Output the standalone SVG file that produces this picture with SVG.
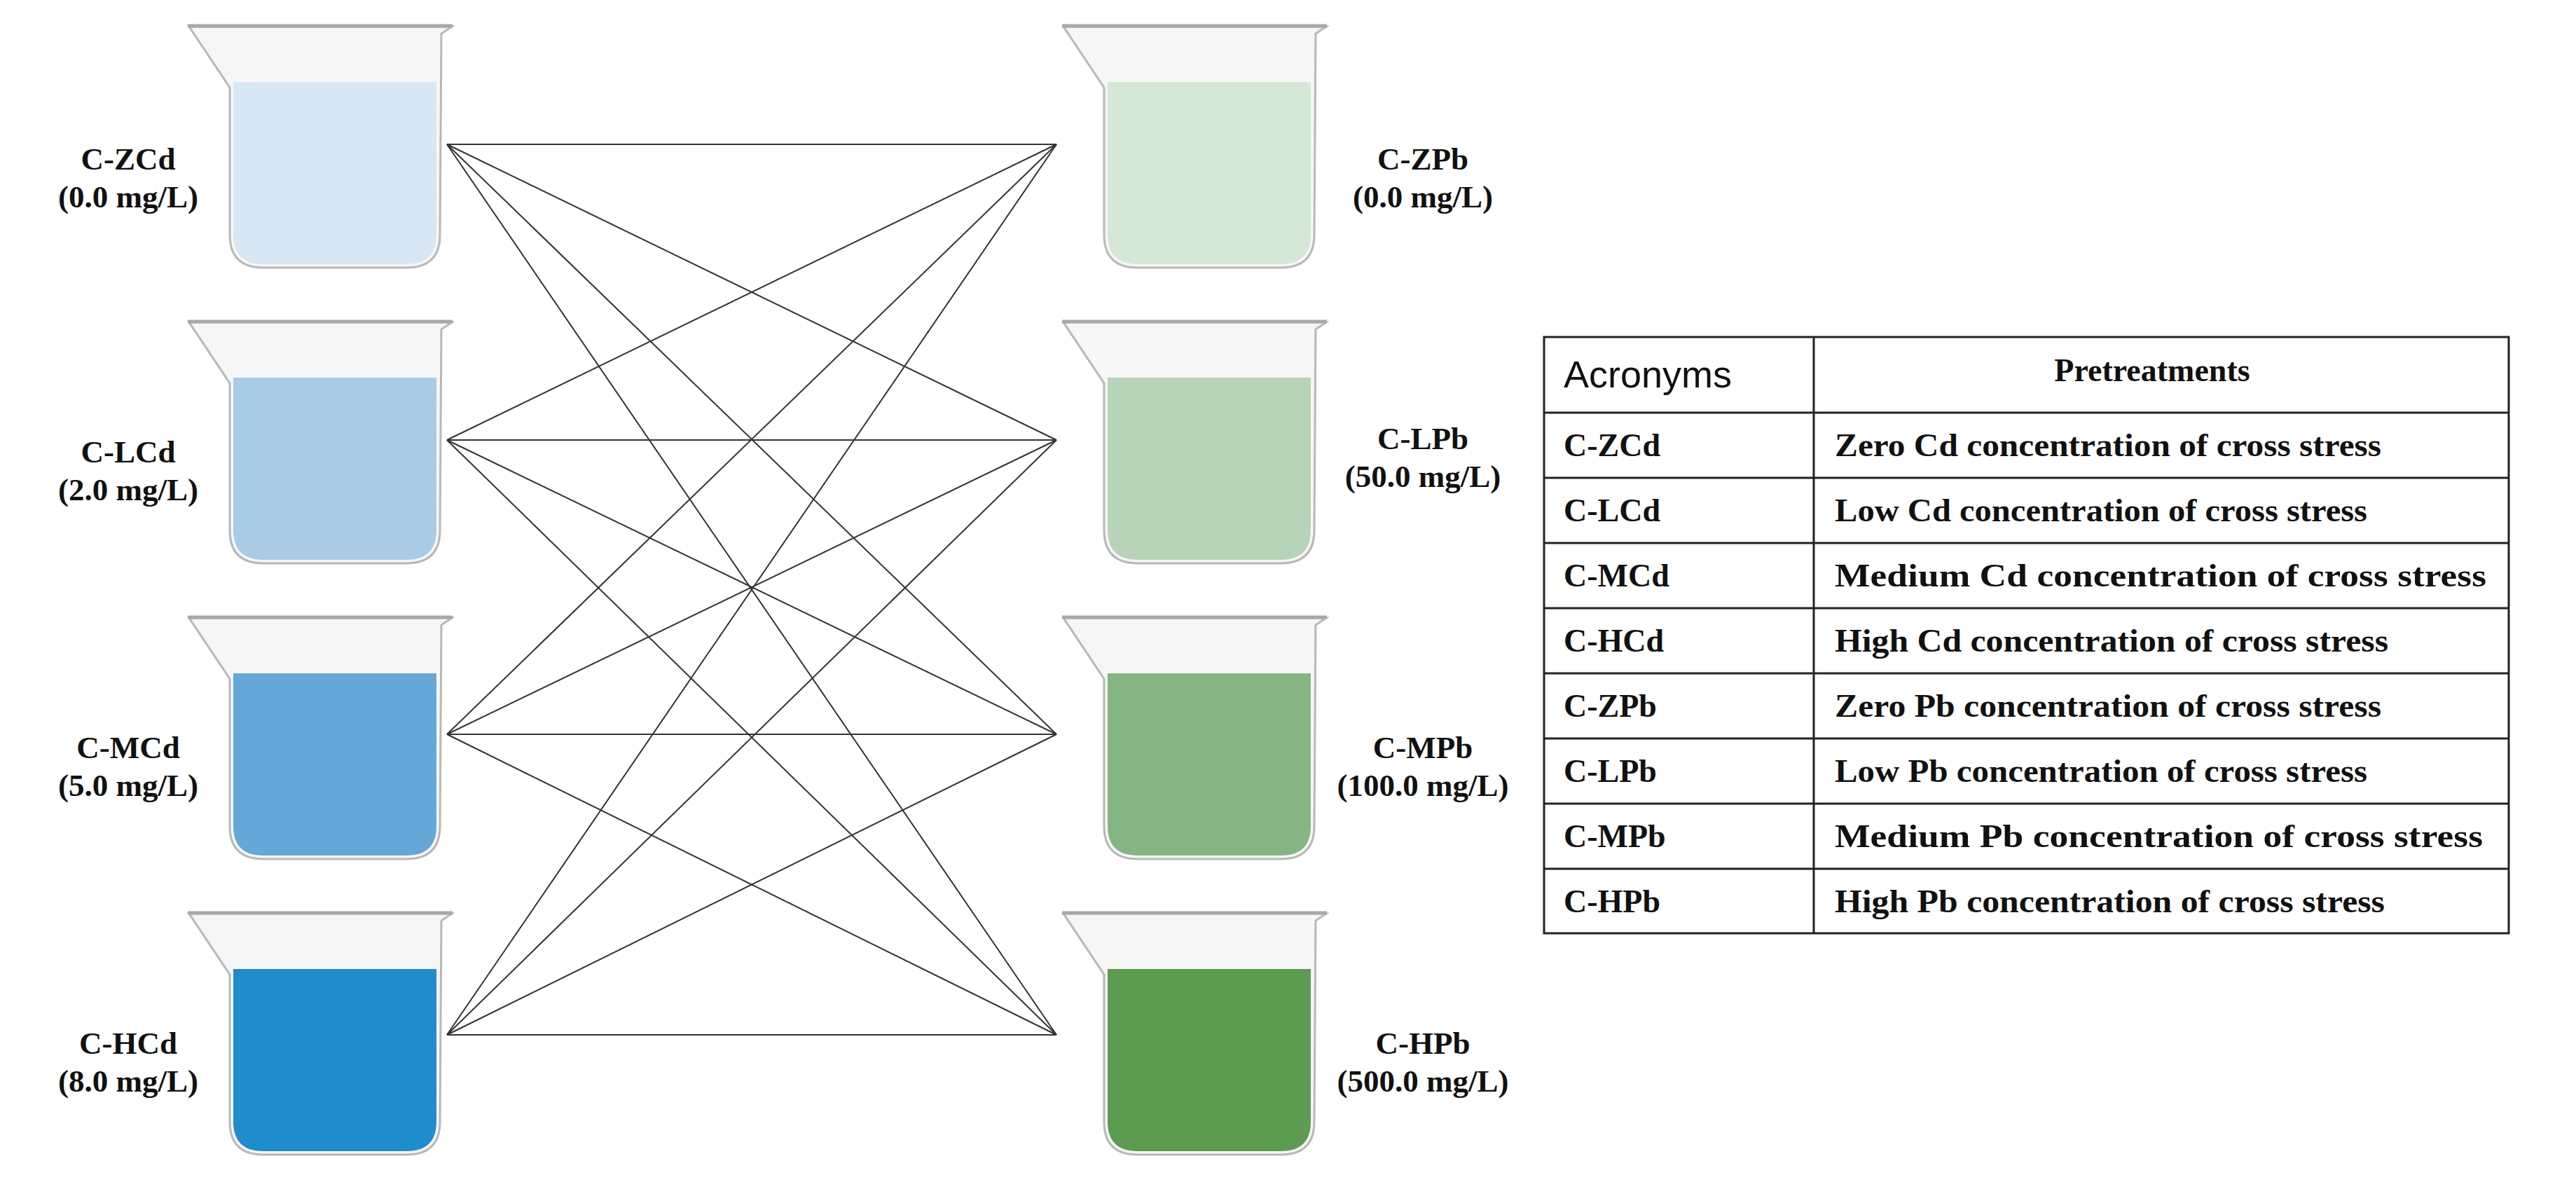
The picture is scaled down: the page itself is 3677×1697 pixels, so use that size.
<svg xmlns="http://www.w3.org/2000/svg" width="3677" height="1697" viewBox="0 0 3677 1697">
<style>
.lbl{font-family:"Liberation Serif",serif;font-weight:bold;font-size:45px;text-anchor:middle;fill:#111}
.tt{font-family:"Liberation Serif",serif;font-weight:bold;font-size:46px;fill:#111}
.glass{fill:#f6f6f6;stroke:#b8b8b8;stroke-width:3}
.rim{fill:none;stroke:#a8a8a8;stroke-width:5}
.ln{stroke:#333;stroke-width:2;fill:none}
.grid{stroke:#222;stroke-width:3;fill:none}
</style>
<defs>
<g id="beaker">
<path class="glass" d="M270,38 L645,38 L630,48 L628,335 Q628,382 580,382 L376,382 Q328,382 328,335 L328,125 Z"/>
<path class="rim" d="M268,37 L646,37"/>
</g>
<path id="liq" d="M333,117 L623,117 L623,335 Q623,377 580,377 L376,377 Q333,377 333,335 Z"/>
</defs>
<rect width="3677" height="1697" fill="#fff"/>
<g id="connectors">
<line class="ln" x1="638" y1="206" x2="1508" y2="206"/><line class="ln" x1="638" y1="206" x2="1508" y2="628"/><line class="ln" x1="638" y1="206" x2="1508" y2="1048"/><line class="ln" x1="638" y1="206" x2="1508" y2="1477"/>
<line class="ln" x1="638" y1="628" x2="1508" y2="206"/><line class="ln" x1="638" y1="628" x2="1508" y2="628"/><line class="ln" x1="638" y1="628" x2="1508" y2="1048"/><line class="ln" x1="638" y1="628" x2="1508" y2="1477"/>
<line class="ln" x1="638" y1="1048" x2="1508" y2="206"/><line class="ln" x1="638" y1="1048" x2="1508" y2="628"/><line class="ln" x1="638" y1="1048" x2="1508" y2="1048"/><line class="ln" x1="638" y1="1048" x2="1508" y2="1477"/>
<line class="ln" x1="638" y1="1477" x2="1508" y2="206"/><line class="ln" x1="638" y1="1477" x2="1508" y2="628"/><line class="ln" x1="638" y1="1477" x2="1508" y2="1048"/><line class="ln" x1="638" y1="1477" x2="1508" y2="1477"/>
</g>
<g id="C-ZCd"><use href="#beaker"/><use href="#liq" fill="#d7e7f3"/><text class="lbl" x="183" y="242">C-ZCd</text><text class="lbl" x="183" y="296">(0.0 mg/L)</text></g>
<g id="C-LCd" transform="translate(0,422)"><use href="#beaker"/><use href="#liq" fill="#aacbe6"/><text class="lbl" x="183" y="238">C-LCd</text><text class="lbl" x="183" y="292">(2.0 mg/L)</text></g>
<g id="C-MCd" transform="translate(0,844)"><use href="#beaker"/><use href="#liq" fill="#65a8d7"/><text class="lbl" x="183" y="238">C-MCd</text><text class="lbl" x="183" y="292">(5.0 mg/L)</text></g>
<g id="C-HCd" transform="translate(0,1266)"><use href="#beaker"/><use href="#liq" fill="#1f8dcb"/><text class="lbl" x="183" y="238">C-HCd</text><text class="lbl" x="183" y="292">(8.0 mg/L)</text></g>
<g id="C-ZPb" transform="translate(1248,0)"><use href="#beaker"/><use href="#liq" fill="#d5e8d5"/><text class="lbl" x="783" y="242">C-ZPb</text><text class="lbl" x="783" y="296">(0.0 mg/L)</text></g>
<g id="C-LPb" transform="translate(1248,422)"><use href="#beaker"/><use href="#liq" fill="#b8d4b8"/><text class="lbl" x="783" y="219">C-LPb</text><text class="lbl" x="783" y="273">(50.0 mg/L)</text></g>
<g id="C-MPb" transform="translate(1248,844)"><use href="#beaker"/><use href="#liq" fill="#86b584"/><text class="lbl" x="783" y="238">C-MPb</text><text class="lbl" x="783" y="292">(100.0 mg/L)</text></g>
<g id="C-HPb" transform="translate(1248,1266)"><use href="#beaker"/><use href="#liq" fill="#5b9c51"/><text class="lbl" x="783" y="238">C-HPb</text><text class="lbl" x="783" y="292">(500.0 mg/L)</text></g>
<g id="table">
<rect class="grid" x="2204" y="481" width="1377" height="851"/>
<line class="grid" x1="2589" y1="481" x2="2589" y2="1332"/>
<line class="grid" x1="2204" y1="589" x2="3581" y2="589"/>
<line class="grid" x1="2204" y1="682" x2="3581" y2="682"/>
<line class="grid" x1="2204" y1="775" x2="3581" y2="775"/>
<line class="grid" x1="2204" y1="868" x2="3581" y2="868"/>
<line class="grid" x1="2204" y1="961" x2="3581" y2="961"/>
<line class="grid" x1="2204" y1="1054" x2="3581" y2="1054"/>
<line class="grid" x1="2204" y1="1147" x2="3581" y2="1147"/>
<line class="grid" x1="2204" y1="1240" x2="3581" y2="1240"/>
<text x="2232" y="553" font-family="Liberation Sans,Arial,sans-serif" font-size="54" fill="#111">Acronyms</text>
<text class="tt" x="3072" y="544" text-anchor="middle" font-size="42">Pretreatments</text>
<text class="tt" x="2232" y="651">C-ZCd</text><text class="tt" x="2619" y="651" textLength="780" lengthAdjust="spacingAndGlyphs">Zero Cd concentration of cross stress</text>
<text class="tt" x="2232" y="744">C-LCd</text><text class="tt" x="2619" y="744" textLength="760" lengthAdjust="spacingAndGlyphs">Low Cd concentration of cross stress</text>
<text class="tt" x="2232" y="837">C-MCd</text><text class="tt" x="2619" y="837" textLength="930" lengthAdjust="spacingAndGlyphs">Medium Cd concentration of cross stress</text>
<text class="tt" x="2232" y="930">C-HCd</text><text class="tt" x="2619" y="930" textLength="790" lengthAdjust="spacingAndGlyphs">High Cd concentration of cross stress</text>
<text class="tt" x="2232" y="1023">C-ZPb</text><text class="tt" x="2619" y="1023" textLength="780" lengthAdjust="spacingAndGlyphs">Zero Pb concentration of cross stress</text>
<text class="tt" x="2232" y="1116">C-LPb</text><text class="tt" x="2619" y="1116" textLength="760" lengthAdjust="spacingAndGlyphs">Low Pb concentration of cross stress</text>
<text class="tt" x="2232" y="1209">C-MPb</text><text class="tt" x="2619" y="1209" textLength="925" lengthAdjust="spacingAndGlyphs">Medium Pb concentration of cross stress</text>
<text class="tt" x="2232" y="1302">C-HPb</text><text class="tt" x="2619" y="1302" textLength="785" lengthAdjust="spacingAndGlyphs">High Pb concentration of cross stress</text>
</g>
</svg>
